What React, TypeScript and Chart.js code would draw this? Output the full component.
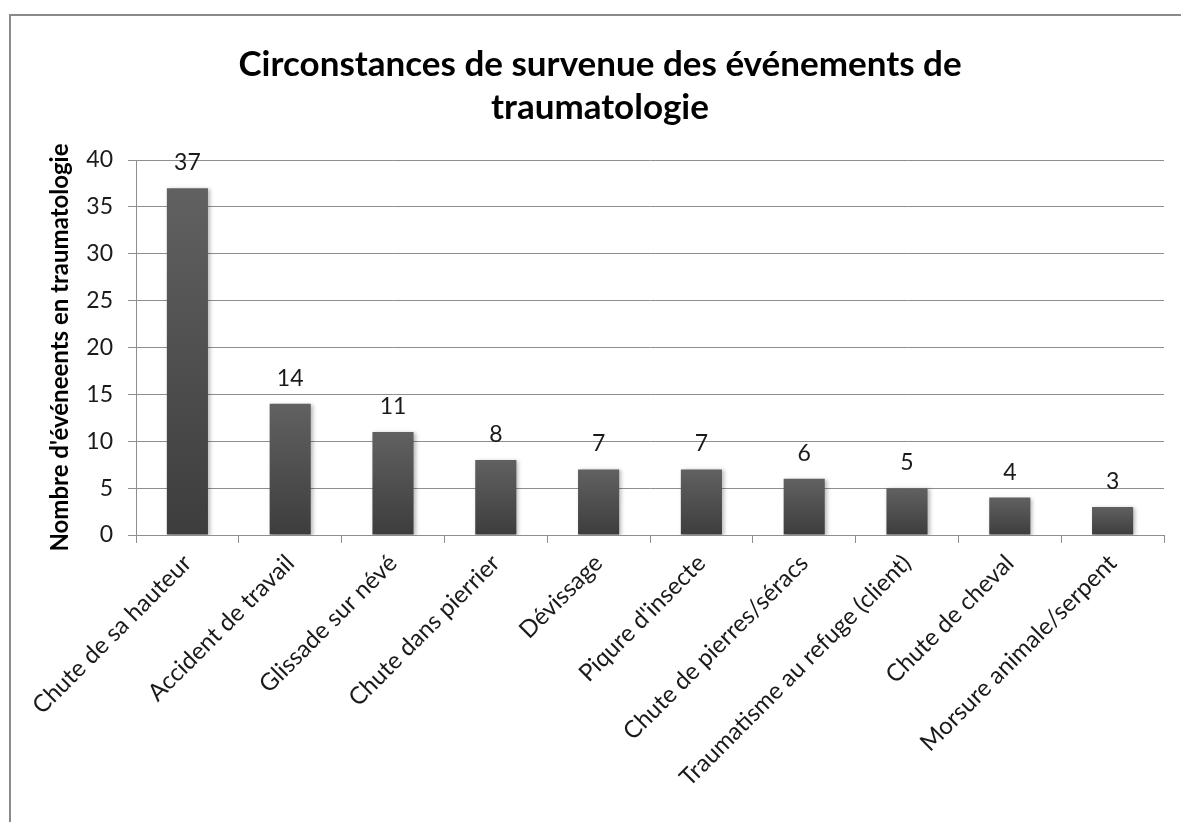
import React, { useEffect, useRef } from "react";
import { Chart, registerables } from "chart.js";

Chart.register(...registerables);

const titleLines = ["Circonstances de survenue des événements de", "traumatologie"];
const yAxisTitle = "Nombre d'événeents en traumatologie";
const categories = [
  "Chute de sa hauteur",
  "Accident de travail",
  "Glissade sur névé",
  "Chute dans pierrier",
  "Dévissage",
  "Piqure d'insecte",
  "Chute de pierres/séracs",
  "Traumatisme au refuge (client)",
  "Chute de cheval",
  "Morsure animale/serpent",
];
const values = [37, 14, 11, 8, 7, 7, 6, 5, 4, 3];
const yMin = 0;
const yMax = 40;
const yStep = 5;

const FONT = "Lato, 'Open Sans', sans-serif";

const framePlugin = {
  id: "frame",
  beforeDraw(chart: any) {
    const ctx = chart.ctx;
    ctx.save();
    ctx.fillStyle = "#ffffff";
    ctx.fillRect(0, 0, chart.width, chart.height);
    ctx.strokeStyle = "#8a8a8a";
    ctx.lineWidth = 2;
    ctx.beginPath();
    ctx.moveTo(10, chart.height + 10);
    ctx.lineTo(10, 15);
    ctx.lineTo(chart.width + 10, 15);
    ctx.stroke();
    ctx.restore();
  },
};

const shadowPlugin = {
  id: "barShadow",
  beforeDatasetsDraw(chart: any) {
    const ctx = chart.ctx;
    ctx.save();
    ctx.shadowColor = "rgba(0,0,0,0.28)";
    ctx.shadowBlur = 4;
    ctx.shadowOffsetX = 2;
    ctx.shadowOffsetY = 1;
  },
  afterDatasetsDraw(chart: any) {
    chart.ctx.restore();
  },
};

const valueLabelPlugin = {
  id: "valueLabels",
  afterDatasetsDraw(chart: any) {
    const ctx = chart.ctx;
    const meta = chart.getDatasetMeta(0);
    ctx.save();
    ctx.font = `23px ${FONT}`;
    ctx.fillStyle = "#1a1a1a";
    ctx.textAlign = "center";
    ctx.textBaseline = "alphabetic";
    meta.data.forEach((bar: any, i: number) => {
      ctx.fillText(String(values[i]), bar.x, bar.y - 18);
    });
    ctx.restore();
  },
};

export default function App() {
  const canvasRef = useRef<HTMLCanvasElement | null>(null);

  useEffect(() => {
    if (!canvasRef.current) return;
    const chart = new Chart(canvasRef.current, {
      type: "bar",
      data: {
        labels: categories,
        datasets: [
          {
            data: values,
            backgroundColor: (c: any) => {
              const chartObj = c.chart;
              const yScale = chartObj.scales?.y;
              if (!yScale || c.raw == null) return "#505050";
              const top = yScale.getPixelForValue(c.raw);
              const bottom = yScale.getPixelForValue(0);
              if (!Number.isFinite(top) || !Number.isFinite(bottom) || top === bottom) return "#505050";
              const g = chartObj.ctx.createLinearGradient(0, top, 0, bottom);
              g.addColorStop(0, "#616161");
              g.addColorStop(1, "#3d3d3d");
              return g;
            },
            borderWidth: 0,
            barPercentage: 0.4,
            categoryPercentage: 1,
          },
        ],
      },
      options: {
        animation: false,
        responsive: true,
        maintainAspectRatio: false,
        layout: { padding: { left: 36, right: 17, top: 22, bottom: 0 } },
        plugins: {
          legend: { display: false },
          tooltip: { enabled: false },
          title: {
            display: true,
            text: titleLines,
            color: "#000000",
            font: { family: FONT, size: 35, weight: "bold", lineHeight: 1.2286 },
            padding: { top: 21.5, bottom: 30.5 },
          },
        },
        scales: {
          x: {
            grid: {
              display: true,
              drawOnChartArea: false,
              drawTicks: true,
              tickLength: 8,
              color: "#8e8e8e",
              offset: true,
            },
            border: { display: true, color: "#8e8e8e", width: 1 },
            ticks: {
              autoSkip: false,
              maxRotation: 45,
              minRotation: 45,
              padding: 6,
              color: "#1a1a1a",
              font: { family: FONT, size: 24 },
            },
            afterFit(scale: any) {
              scale.height = 287;
            },
          },
          y: {
            min: yMin,
            max: yMax,
            ticks: {
              stepSize: yStep,
              padding: 15,
              color: "#1a1a1a",
              font: { family: FONT, size: 23 },
            },
            grid: {
              color: "#8e8e8e",
              tickLength: 8,
              drawTicks: true,
            },
            border: { display: true, color: "#8e8e8e", width: 1 },
            title: {
              display: true,
              text: yAxisTitle,
              color: "#000000",
              font: { family: FONT, size: 24, weight: "bold", lineHeight: 1.0 },
              padding: { top: 12, bottom: 0 },
            },
            afterFit(scale: any) {
              scale.width = 100;
            },
          },
        },
      },
      plugins: [framePlugin, shadowPlugin, valueLabelPlugin],
    });
    return () => chart.destroy();
  }, []);

  return (
    <div style={{ position: "fixed", left: 0, top: 0, width: 1181, height: 822 }}>
      <canvas ref={canvasRef} />
    </div>
  );
}
